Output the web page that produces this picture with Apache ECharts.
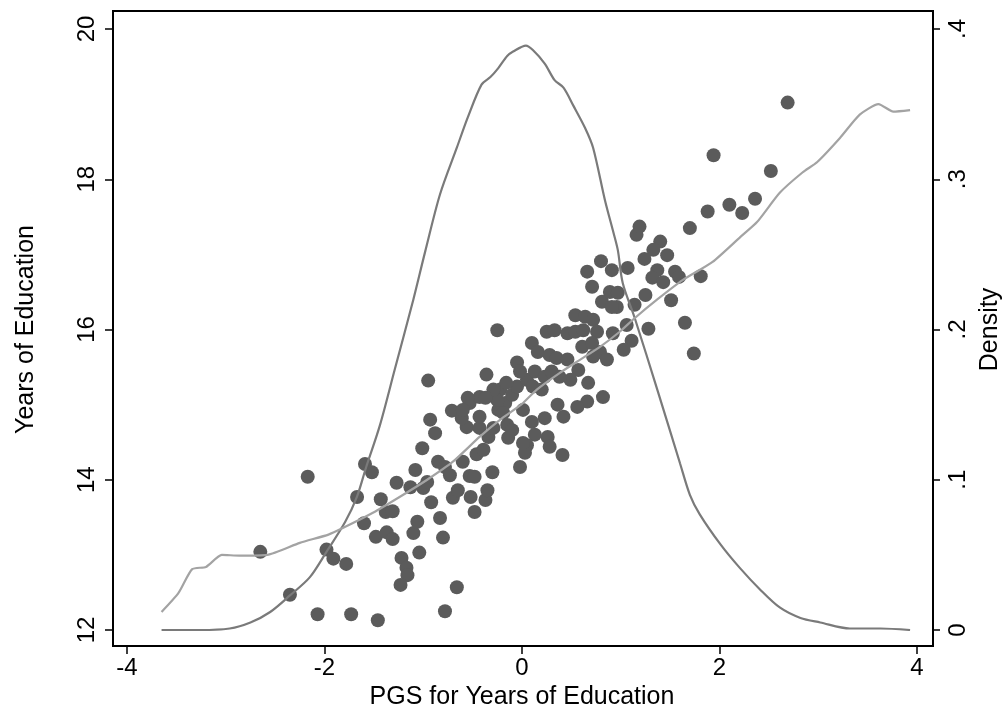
<!DOCTYPE html>
<html>
<head>
<meta charset="utf-8">
<script src="https://cdn.jsdelivr.net/npm/echarts@6/dist/echarts.min.js"></script>
<style>
  html, body { margin: 0; padding: 0; background: #fff; }
  #chart { width: 1002px; height: 713px; }
</style>
</head>
<body>
<div id="chart"></div>
<script>
// scatter: PGS score vs years of education
var pgs = [
  -2.65, -2.35, -2.17, -2.07, -1.98, -1.91, -1.78, -1.73, -1.59, -1.52,
  -1.67, -1.60, -1.46, -1.43, -1.48, -1.37, -1.31, -1.38, -1.31, -1.27,
  -1.13, -1.08, -1.01, -0.88, -0.93, -1.22, -1.17, -1.16, -1.23, -1.10,
  -1.06, -1.04, -0.92, -1.00, -0.96, -0.83, -0.80, -0.85, -0.78, -0.73,
  -0.66, -0.78, -0.70, -0.65, -0.60, -0.53, -0.48, -0.52, -0.48, -0.37,
  -0.35, -0.30, -0.46, -0.39, -0.56, -0.43, -0.34, -0.95, -0.36, -0.71,
  -0.61, -0.53, -0.43, -0.43, -0.29, -0.22, -0.17, -0.24, -0.10, -0.05,
  0.05, 0.01, -0.15, -0.10, -0.14, 0.10, 0.13, 0.05, 0.03, -0.02,
  -0.25, -0.05, 0.10, 0.16, 0.25, 0.33, 0.28, 0.35, 0.46, 0.46,
  0.54, 0.64, 0.54, 0.62, 0.72, 0.76, 0.61, 0.71, 0.79, 0.86,
  0.72, 0.57, 0.49, 0.67, 0.82, 0.66, 0.56, 0.36, 0.42, 0.23,
  0.26, 0.28, 0.41, 0.13, 0.23, 0.38, -0.25, -0.55, -0.60, -0.19,
  0.11, 0.20, 0.81, 0.96, 0.92, -0.02, 0.30, -0.16, -0.29, -0.37,
  0.01, 1.16, 1.19, 1.40, 1.33, 1.47, 1.70, 0.80, 0.91, 0.66,
  1.07, 1.24, 1.37, 1.32, 1.43, 1.55, 1.59, 1.81, 0.71, 0.89,
  0.97, 0.91, 1.14, 1.25, 1.51, 1.65, 1.74, 1.28, 1.06, 1.11,
  1.03, 1.88, 2.10, 2.23, 2.36, 1.94, 2.52, 2.69
]
var years = [
  13.04, 12.47, 14.04, 12.21, 13.07, 12.95, 12.88, 12.21, 14.21, 14.10,
  13.77, 13.42, 12.13, 13.74, 13.24, 13.30, 13.21, 13.57, 13.58, 13.96,
  13.90, 14.13, 14.42, 14.62, 14.80, 12.96, 12.83, 12.73, 12.60, 13.29,
  13.44, 13.03, 13.70, 13.89, 13.97, 13.49, 13.23, 14.24, 14.17, 14.06,
  12.57, 12.25, 13.76, 13.86, 14.24, 14.05, 14.04, 13.77, 13.57, 13.73,
  13.86, 14.10, 14.34, 14.40, 14.70, 14.69, 14.57, 15.32, 15.40, 14.92,
  14.82, 15.02, 15.10, 14.84, 14.69, 15.20, 15.02, 14.93, 15.13, 15.24,
  15.33, 14.93, 14.73, 14.66, 14.56, 14.77, 14.60, 14.46, 14.36, 14.17,
  15.99, 15.56, 15.82, 15.70, 15.97, 15.99, 15.66, 15.62, 15.60, 15.95,
  16.19, 16.17, 15.97, 15.99, 16.13, 15.97, 15.77, 15.82, 15.70, 15.60,
  15.64, 15.46, 15.33, 15.29, 15.10, 15.04, 14.97, 15.00, 14.84, 14.82,
  14.57, 14.44, 14.33, 15.44, 15.37, 15.37, 15.06, 15.09, 14.93, 14.89,
  15.24, 15.20, 16.37, 16.30, 15.95, 15.44, 15.44, 15.29, 15.20, 15.09,
  14.49, 17.26, 17.37, 17.17, 17.06, 16.99, 17.35, 16.91, 16.79, 16.77,
  16.82, 16.94, 16.79, 16.69, 16.63, 16.77, 16.70, 16.71, 16.57, 16.50,
  16.49, 16.30, 16.33, 16.46, 16.39, 16.09, 15.68, 16.01, 16.06, 15.85,
  15.73, 17.57, 17.66, 17.55, 17.74, 18.32, 18.11, 19.02
]

// kernel density of PGS (right axis)
var densX = [
  -3.65, -3.26, -2.96, -2.75, -2.55, -2.35, -2.15, -1.98, -1.79, -1.67,
  -1.58, -1.44, -1.29, -1.10, -0.98, -0.83, -0.66, -0.55, -0.41, -0.32,
  -0.24, -0.15, -0.09, 0.04, 0.11, 0.23, 0.33, 0.42, 0.52, 0.64,
  0.72, 0.84, 0.92, 0.97, 1.02, 1.14, 1.37, 1.60, 1.70, 1.80,
  2.01, 2.21, 2.41, 2.61, 2.82, 3.02, 3.32, 3.63, 3.93
]
var densY = [
  0.000, 0.000, 0.001, 0.005, 0.012, 0.023, 0.035, 0.052, 0.072, 0.089,
  0.108, 0.136, 0.173, 0.220, 0.252, 0.290, 0.321, 0.341, 0.363, 0.368,
  0.374, 0.382, 0.385, 0.389, 0.386, 0.377, 0.366, 0.361, 0.349, 0.334,
  0.321, 0.286, 0.266, 0.253, 0.231, 0.208, 0.160, 0.111, 0.090, 0.077,
  0.057, 0.041, 0.027, 0.015, 0.008, 0.005, 0.001, 0.001, 0.000
]

// local fit of years on PGS
var fitX = [
  -3.65, -3.48, -3.34, -3.20, -3.04, -2.86, -2.58, -2.25, -1.96, -1.81,
  -1.51, -1.24, -0.96, -0.70, -0.43, -0.22, 0.00, 0.15, 0.38, 0.59,
  0.79, 0.99, 1.14, 1.37, 1.63, 1.93, 2.21, 2.38, 2.61, 2.84,
  2.99, 3.22, 3.42, 3.61, 3.76, 3.93
]
var fitY = [
  12.24, 12.49, 12.81, 12.84, 13.00, 12.99, 13.00, 13.16, 13.27, 13.36,
  13.56, 13.77, 14.00, 14.24, 14.57, 14.80, 15.01, 15.20, 15.42, 15.60,
  15.77, 15.97, 16.15, 16.40, 16.66, 16.90, 17.23, 17.43, 17.82, 18.09,
  18.23, 18.55, 18.86, 19.00, 18.90, 18.92
]

var xTicks = [-4, -2, 0, 2, 4]
var yTicks = [12, 14, 16, 18, 20]
var densTicks = [0, 0.1, 0.2, 0.3, 0.4]

function zip(a, b) {
  return a.map(function (v, i) { return [v, b[i]] })
}

var font = 'Liberation Sans, Arial, sans-serif'
var tickStyle = { show: true, length: 8, lineStyle: { color: '#000', width: 1.5 } }

var chart = echarts.init(document.getElementById('chart'))
chart.setOption({
  animation: false,
  grid: { left: 127, right: 85, top: 29, bottom: 83, outerBoundsMode: 'none', containLabel: false },
  graphic: [{
    type: 'rect',
    z: 100,
    shape: { x: 113, y: 11, width: 820, height: 635 },
    style: { fill: 'none', stroke: '#000', lineWidth: 2 }
  }],
  xAxis: {
    type: 'value',
    min: xTicks[0],
    max: xTicks[xTicks.length - 1],
    interval: 2,
    offset: 16,
    axisLine: { show: false, onZero: false },
    axisTick: tickStyle,
    splitLine: { show: false },
    axisLabel: { color: '#000', fontSize: 24, fontFamily: font, margin: 10 },
    name: 'PGS for Years of Education',
    nameLocation: 'middle',
    nameGap: 38,
    nameTextStyle: { color: '#000', fontSize: 25, fontFamily: font }
  },
  yAxis: [{
    type: 'value',
    position: 'left',
    min: yTicks[0],
    max: yTicks[yTicks.length - 1],
    interval: 2,
    offset: 14,
    axisLine: { show: false, onZero: false },
    axisTick: tickStyle,
    splitLine: { show: false },
    axisLabel: { color: '#000', fontSize: 24, fontFamily: font, rotate: 90, margin: 14 },
    name: 'Years of Education',
    nameLocation: 'middle',
    nameRotate: 90,
    nameGap: 74,
    nameTextStyle: { color: '#000', fontSize: 25, fontFamily: font }
  }, {
    type: 'value',
    position: 'right',
    min: densTicks[0],
    max: densTicks[densTicks.length - 1],
    interval: 0.1,
    offset: 15,
    axisLine: { show: false, onZero: false },
    axisTick: tickStyle,
    splitLine: { show: false },
    axisLabel: {
      color: '#000', fontSize: 24, fontFamily: font, rotate: 90, margin: 14,
      formatter: function (v) {
        return v === 0 ? '0' : String(+v.toFixed(1)).replace(/^0/, '')
      }
    },
    name: 'Density',
    nameLocation: 'middle',
    nameRotate: 90,
    nameGap: 40,
    nameTextStyle: { color: '#000', fontSize: 25, fontFamily: font }
  }],
  series: [{
    type: 'scatter',
    data: zip(pgs, years),
    symbolSize: 14,
    itemStyle: { color: '#5b5b5b', opacity: 1 }
  }, {
    type: 'line',
    yAxisIndex: 1,
    data: zip(densX, densY),
    showSymbol: false,
    smooth: 0.3,
    lineStyle: { color: '#7a7a7a', width: 2.2 }
  }, {
    type: 'line',
    data: zip(fitX, fitY),
    showSymbol: false,
    smooth: 0.2,
    lineStyle: { color: '#a3a3a3', width: 2.2 }
  }]
})
</script>
</body>
</html>
